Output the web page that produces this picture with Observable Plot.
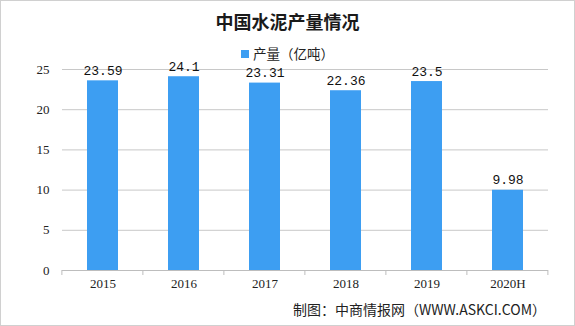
<!DOCTYPE html>
<html><head><meta charset="utf-8">
<script src="https://cdn.jsdelivr.net/npm/d3@7"></script>
<script src="https://cdn.jsdelivr.net/npm/@observablehq/plot@0.6"></script>
<style>
html,body{margin:0;padding:0;background:#fff;}
#wrap{position:relative;width:575px;height:326px;overflow:hidden;}
#frame{position:absolute;left:0;top:0;width:573px;height:324px;border:1px solid #d0d0d0;pointer-events:none;}
#title{position:absolute;left:0;width:575px;top:9px;text-align:center;font-family:"Noto Sans CJK SC",sans-serif;font-weight:bold;font-size:18px;line-height:24px;color:#1a1a1a;}
#legend{position:absolute;left:0;width:575px;top:43px;text-align:center;font-family:"Noto Sans CJK SC",sans-serif;font-size:13.5px;line-height:20px;color:#222;}
#legend i{display:inline-block;width:8px;height:8px;background:#3d9ef2;margin-right:4px;vertical-align:1px;}
#caption{position:absolute;right:29px;top:299px;font-family:"Noto Sans CJK SC",sans-serif;font-size:14px;line-height:20px;color:#222;}
#chart{position:absolute;left:0;top:0;}
</style></head>
<body>
<div id="wrap">
<div id="chart"></div>
<div id="title">中国水泥产量情况</div>
<div id="legend"><i></i>产量（亿吨）</div>
<div id="caption">制图：中商情报网（WWW.ASKCI.COM）</div>
<div id="frame"></div>
</div>
<script>
const years = ["2015", "2016", "2017", "2018", "2019", "2020H"];
const output = [23.59, 24.1, 23.31, 22.36, 23.5, 9.98];
const yTicks = [0, 5, 10, 15, 20, 25];
const data = years.map((y, i) => ({year: y, value: output[i]}));

const plot = Plot.plot({
  width: 575,
  height: 326,
  marginLeft: 62,
  marginRight: 27,
  marginTop: 69,
  marginBottom: 56,
  style: {fontFamily: "'Liberation Serif', serif", fontSize: "13px", color: "#222", background: "transparent"},
  x: {domain: years, paddingInner: 0.62, paddingOuter: 0.31, label: null, tickSize: 0, tickPadding: 8},
  y: {domain: [0, 25], ticks: yTicks, label: null, tickSize: 0, tickPadding: 13, grid: false},
  marks: [
    Plot.ruleY(yTicks.filter(d => d > 0), {stroke: "#c8c8c8", strokeWidth: 1}),
    Plot.barY(data, {x: "year", y: "value", fill: "#3d9ef2"}),
    Plot.ruleY([0], {stroke: "#bdbdbd", strokeWidth: 1}),
    Plot.text(data, {x: "year", y: "value", text: d => String(d.value), lineAnchor: "bottom", dy: -6,
      fontFamily: "'Liberation Mono', monospace", fontSize: 13, fill: "#111"})
  ]
});
document.getElementById("chart").appendChild(plot);

// tick marks at band boundaries on the x axis, derived from the x scale
const sx = plot.scale("x");
const sy = plot.scale("y");
const step = sx.step;
const edges = years.map(c => sx.apply(c) - step * sx.paddingInner / 2);
edges.push(edges[edges.length - 1] + step);
const y0 = sy.apply(0);
const svg = d3.select(plot.tagName.toLowerCase() === "svg" ? plot : plot.querySelector("svg"));
svg.append("g").selectAll("line").data(edges).join("line")
  .attr("x1", d => d).attr("x2", d => d)
  .attr("y1", y0).attr("y2", y0 + 5)
  .attr("stroke", "#bdbdbd");
</script>
</body></html>
